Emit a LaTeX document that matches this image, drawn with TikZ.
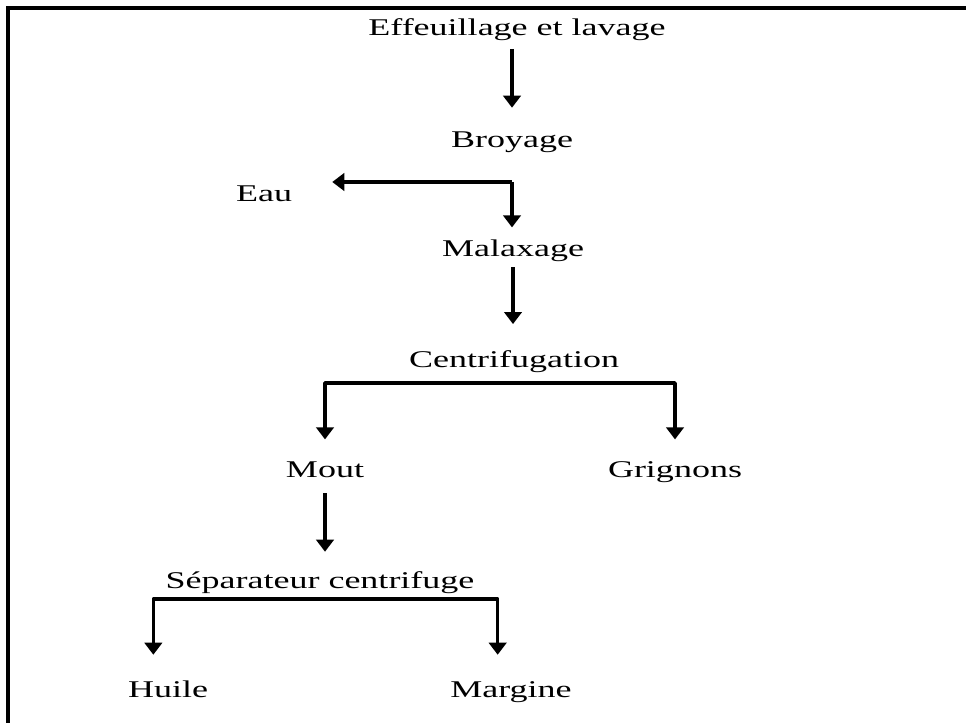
\documentclass[tikz,border=0pt]{standalone}
\usepackage{fontspec}
\setmainfont[FakeStretch=1.5]{Liberation Serif}
\usepackage{tikz}
\usetikzlibrary{positioning,arrows.meta,calc}

\tikzset{
  stage/.style={inner sep=0pt, anchor=base, text height=13pt, text depth=4.5pt,
    font=\fontsize{18}{22}\selectfont},
  flow/.style={line width=2.6pt, line join=round,
    -{Triangle[width=13pt,length=9pt]}},
  frame/.style={line width=2.6pt}
}

\begin{document}
\begin{tikzpicture}[x=0.75pt,y=-0.75pt]

  \useasboundingbox (0,0) rectangle (966,723);
  \draw[frame] (966,8) -| (8,723);

  \node[stage] (eff) at (517,36) {Effeuillage et lavage};
  \node[stage] (broy) at (512,148) {Broyage};
  \node[stage] (eau) at (264,202) {Eau};
  \node[stage] (malax) at (513,257) {Malaxage};
  \node[stage] (centr) at (514,367) {Centrifugation};
  \node[stage] (mout) at (325,477) {Mout};
  \node[stage] (grig) at (675,477) {Grignons};
  \node[stage] (sep) at (320,588) {Séparateur centrifuge};
  \node[stage] (huile) at (168,697) {Huile};
  \node[stage] (marg) at (511,697) {Margine};

  \coordinate (split1) at ($(broy.base)+(0,34)$);
  \coordinate (split2) at ($(centr.base)+(0,16)$);
  \coordinate (split3) at ($(sep.base)+(0,11)$);

  \draw[flow, shorten <=5pt, shorten >=17pt] (broy.north |- eff.south) -- (broy.north);
  \draw[flow, shorten >=30pt] (split1) -- (split1 -| eau.east);
  \draw[flow, shorten >=9pt] (split1) -- (split1 |- malax.north);
  \draw[flow, shorten <=3pt, shorten >=19pt] (malax.south) -- (malax.south |- centr.north);
  \draw[flow, shorten >=15pt] (split2) -| (mout.north);
  \draw[flow, shorten >=15pt] (split2) -| (grig.north);
  \draw[flow, shorten <=7.5pt, shorten >=14pt] (mout.south) -- (mout.south |- sep.north);
  \draw[flow, shorten >=18.5pt] (split3) -| ([xshift=-11pt]huile.north);
  \draw[flow, shorten >=18.5pt] (split3) -| ([xshift=-10pt]marg.north);

\end{tikzpicture}
\end{document}
